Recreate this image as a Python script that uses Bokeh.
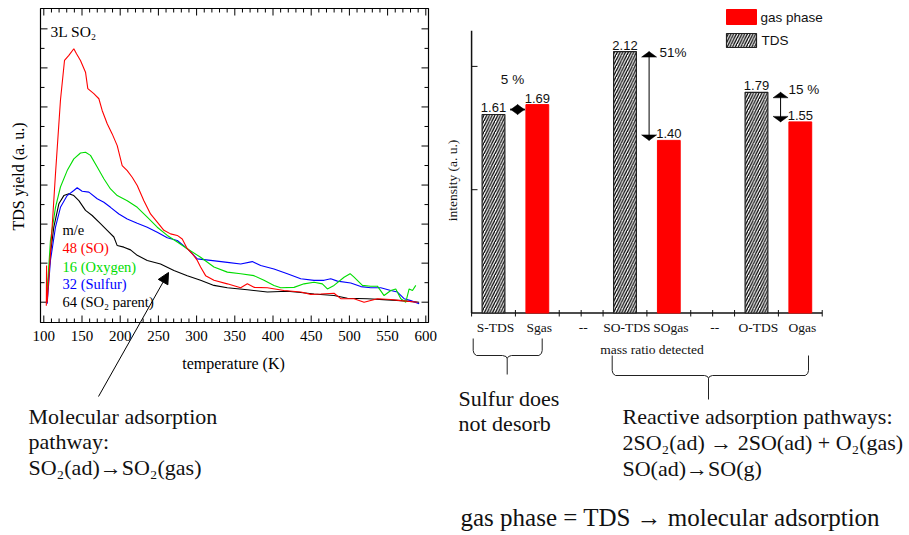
import math
from bokeh.plotting import figure
from bokeh.models import Range1d, Arrow, NormalHead
from bokeh.core.properties import value
from bokeh.embed import file_html
from bokeh.resources import INLINE

W, H = 909, 535
SERIF = "Liberation Serif"
SANS = "Liberation Sans"

# ---------------- data: TDS spectra (temperature in K, yield in a.u.) ----------------
so_temp = [103.3, 103.6, 103.9, 104.4, 108.7, 115.3, 121.8, 127.1, 132.8, 139.3, 142.8, 148.0,
           154.6, 157.6, 165.5, 172.1, 176.4, 183.0, 189.5, 196.1, 202.6, 209.2, 215.7, 222.3,
           231.0, 239.7, 248.5, 257.2, 265.9, 274.7, 281.2, 287.8, 294.3, 300.9, 305.2, 311.8,
           322.7, 340.2, 357.7, 366.4, 375.1, 392.6, 414.4, 436.3, 449.4, 462.5, 479.9, 488.7,
           506.1, 519.2, 536.7, 554.2, 567.3, 589.1]
so_yield = [-0.09, 0.94, 0.0, 0.0, 1.24, 3.29, 5.17, 6.19, 6.32, 6.49, 6.36, 6.19,
            5.89, 5.47, 5.34, 5.21, 4.91, 4.57, 4.31, 4.01, 3.50, 3.37, 3.20, 2.99,
            2.60, 2.26, 2.05, 1.84, 1.75, 1.71, 1.62, 1.37, 1.24, 1.07, 0.90, 0.68,
            0.56, 0.47, 0.37, 0.47, 0.38, 0.37, 0.30, 0.26, 0.20, 0.21, 0.23, 0.09,
            0.09, 0.0, 0.09, 0.07, 0.04, 0.0]

o_temp = [103.5, 108.7, 115.3, 121.8, 130.6, 139.3, 148.0, 154.6, 161.1, 169.9, 178.6, 187.3,
          196.1, 209.2, 222.3, 235.4, 248.5, 261.6, 274.7, 287.8, 305.2, 322.7, 340.2, 357.7,
          375.1, 388.2, 401.3, 410.1, 427.5, 440.6, 453.7, 464.6, 471.2, 479.9, 493.0, 500.9,
          506.1, 517.0, 527.9, 536.7, 545.4, 554.2, 560.7, 567.3, 573.8, 578.2, 582.6, 586.9]
o_yield = [0.0, 1.58, 2.43, 2.95, 3.37, 3.67, 3.82, 3.84, 3.76, 3.46, 3.16, 2.90,
           2.73, 2.60, 2.43, 2.18, 1.92, 1.71, 1.54, 1.37, 1.15, 0.90, 0.77, 0.73,
           0.68, 0.56, 0.43, 0.37, 0.38, 0.47, 0.51, 0.47, 0.34, 0.43, 0.64, 0.73,
           0.64, 0.43, 0.41, 0.41, 0.17, 0.30, 0.34, 0.09, 0.0, 0.34, 0.30, 0.43]

s_temp = [104.4, 108.7, 115.3, 121.8, 130.6, 139.3, 143.7, 150.2, 159.0, 169.9, 178.6, 187.3,
          198.3, 209.2, 222.3, 235.4, 248.5, 261.6, 274.7, 287.8, 300.9, 318.4, 340.2, 357.7,
          372.9, 383.9, 401.3, 418.8, 436.3, 453.7, 466.8, 475.6, 484.3, 501.8, 514.9, 528.0,
          541.1, 554.2, 562.9, 571.6, 580.4, 591.3]
s_yield = [-0.04, 1.07, 1.92, 2.43, 2.73, 2.86, 2.93, 2.84, 2.82, 2.65, 2.56, 2.43,
           2.26, 2.13, 2.02, 1.92, 1.79, 1.65, 1.58, 1.37, 1.11, 1.07, 1.02, 0.98,
           1.04, 0.94, 0.85, 0.73, 0.60, 0.56, 0.56, 0.60, 0.54, 0.49, 0.40, 0.37,
           0.37, 0.30, 0.26, 0.09, 0.04, -0.04]

so2_temp = [103.5, 108.7, 113.1, 119.7, 126.2, 132.8, 139.3, 145.9, 154.6, 163.3, 174.2, 183.0,
            191.7, 196.1, 204.8, 213.5, 222.3, 235.4, 252.8, 270.3, 287.8, 305.2, 322.7, 340.2,
            366.4, 392.6, 418.8, 436.3, 453.7, 479.9, 497.4, 523.6, 549.8, 567.3, 591.3]
so2_yield = [0.0, 1.24, 1.92, 2.52, 2.73, 2.78, 2.73, 2.60, 2.35, 2.22, 2.01, 1.84,
             1.67, 1.45, 1.41, 1.34, 1.20, 1.07, 0.98, 0.81, 0.68, 0.56, 0.43, 0.37,
             0.32, 0.26, 0.28, 0.25, 0.21, 0.17, 0.10, 0.09, 0.06, 0.04, 0.0]

temp_major = [100, 150, 200, 250, 300, 350, 400, 450, 500, 550, 600]
temp_minor = [110, 120, 130, 140, 160, 170, 180, 190, 210, 220, 230, 240, 260, 270, 280, 290,
              310, 320, 330, 340, 360, 370, 380, 390, 410, 420, 430, 440, 460, 470, 480, 490,
              510, 520, 530, 540, 560, 570, 580, 590]
yield_major = [0, 1, 2, 3, 4, 5, 6, 7]
yield_minor = [0.5, 1.5, 2.5, 3.5, 4.5, 5.5, 6.5]

series_labels = ["m/e", "48 (SO)", "16 (Oxygen)", "32 (Sulfur)", "64 (SO\u2082 parent)"]
series_colors = ["black", "#ff0000", "#00dd00", "#0000ff", "black"]

# ---------------- data: mass ratio bars ----------------
categories = ["S-TDS", "Sgas", "--", "SO-TDS", "SOgas", "--", "O-TDS", "Ogas"]
tds_cats = ["S-TDS", "SO-TDS", "O-TDS"]
tds_vals = [1.61, 2.12, 1.79]
gas_cats = ["Sgas", "SOgas", "Ogas"]
gas_vals = [1.69, 1.40, 1.55]
diff_labels = ["5 %", "51%", "15 %"]
intensity_ticks = [1, 2]

# ---------------- scales ----------------
def x_span(v0, px0, ppu):
    s = v0 - px0 / ppu
    return Range1d(start=s, end=s + W / ppu)

def y_span(v0, py0, ppu):
    s = v0 - (H - py0) / ppu
    return Range1d(start=s, end=s + H / ppu)

T_PPU = (425.3 - 43.3) / 500.0
Y_PPU = 39.05
BX_PPU = 43.83
BY_PPU = 123.3

p = figure(width=W, height=H, x_range=Range1d(0, W), y_range=Range1d(H, 0),
           toolbar_location=None, output_backend="svg", min_border=0,
           x_axis_type=None, y_axis_type=None)
p.outline_line_color = None
p.background_fill_color = "white"
p.border_fill_color = "white"
p.extra_x_ranges = {"tx": x_span(100, 43.3, T_PPU), "bx": x_span(0, 493.0, BX_PPU)}
p.extra_y_ranges = {"ty": y_span(0, 301.7, Y_PPU), "by": y_span(0, 312.5, BY_PPU)}

# ================= left: TDS chart =================
FL, FR, FT, FB = 40, 428, 8, 322
p.quad(left=[FL], right=[FR], top=[FT], bottom=[FB], fill_color=None,
       line_color="black", line_width=1.2)

n = len(temp_major); m = len(temp_minor)
for y0, d in ((FB, -1), (FT, 1)):
    p.segment(x0=temp_major, x1=temp_major, y0=[y0] * n, y1=[y0 + 7 * d] * n,
              x_range_name="tx", line_color="black", line_width=1)
    p.segment(x0=temp_minor, x1=temp_minor, y0=[y0] * m, y1=[y0 + 4 * d] * m,
              x_range_name="tx", line_color="black", line_width=1)
n = len(yield_major); m = len(yield_minor)
for x0, d in ((FL, 1), (FR, -1)):
    p.segment(x0=[x0] * n, x1=[x0 + 7 * d] * n, y0=yield_major, y1=yield_major,
              y_range_name="ty", line_color="black", line_width=1)
    p.segment(x0=[x0] * m, x1=[x0 + 4 * d] * m, y0=yield_minor, y1=yield_minor,
              y_range_name="ty", line_color="black", line_width=1)

p.text(x=temp_major, y=[335] * len(temp_major), text=[str(t) for t in temp_major],
       x_range_name="tx", text_font=value(SERIF), text_font_size=value("15px"),
       text_align="center", text_baseline="middle", text_color="black")

for tx_, ty_, col in ((so2_temp, so2_yield, "black"), (s_temp, s_yield, "#0000ff"),
                      (o_temp, o_yield, "#00dd00"), (so_temp, so_yield, "#ff0000")):
    p.line(tx_, ty_, x_range_name="tx", y_range_name="ty", line_color=col, line_width=1.1)

p.text(x=[62] * len(series_labels), y=[229, 247, 266, 283, 301], text=series_labels,
       text_color=series_colors, text_font=value(SERIF), text_font_size=value("14.5px"),
       text_align="left", text_baseline="middle")
p.text(x=[50], y=[31], text=["3L SO\u2082"], text_font=value(SERIF),
       text_font_size=value("15.5px"), text_align="left", text_baseline="middle")
p.text(x=[18], y=[176], text=["TDS yield (a. u.)"], angle=math.pi / 2,
       text_font=value(SERIF), text_font_size=value("16px"),
       text_align="center", text_baseline="middle")
p.text(x=[233], y=[363], text=["temperature (K)"], text_font=value(SERIF),
       text_font_size=value("16px"), text_align="center", text_baseline="middle")

p.add_layout(Arrow(end=NormalHead(size=11, fill_color="black", line_color="black"),
                   x_start=98, y_start=396, x_end=168, y_end=272,
                   line_color="black", line_width=1))

# ================= right: bar chart =================
AX_TOP = 2.29
p.segment(x0=[-0.5, -0.5], y0=[0, 0], x1=[-0.5, len(categories) - 0.5], y1=[AX_TOP, 0],
          x_range_name="bx", y_range_name="by", line_color="#111111", line_width=1.5)
bar_ticks = [i - 0.5 for i in range(len(categories) + 1)] + \
            [i for i, c in enumerate(categories) if c == "--"]
p.segment(x0=bar_ticks, x1=bar_ticks, y0=[309.5] * len(bar_ticks), y1=[316] * len(bar_ticks),
          x_range_name="bx", line_color="#111111", line_width=1)
p.segment(x0=[471] * len(intensity_ticks), x1=[477] * len(intensity_ticks),
          y0=intensity_ticks, y1=intensity_ticks, y_range_name="by",
          line_color="#111111", line_width=1)

tds_x = [categories.index(c) for c in tds_cats]
gas_x = [categories.index(c) for c in gas_cats]
HATCH = dict(hatch_pattern="/", hatch_color="#000000", hatch_scale=5.5, hatch_weight=1.3)
p.vbar(x=tds_x, top=tds_vals, bottom=0, width=0.52, x_range_name="bx", y_range_name="by",
       fill_color="white", line_color="#222222", line_width=1.2, **HATCH)
p.vbar(x=gas_x, top=gas_vals, bottom=0, width=0.52, x_range_name="bx", y_range_name="by",
       fill_color="#ff0000", line_color="#ff0000", line_width=1)

p.text(x=tds_x + gas_x, y=tds_vals + gas_vals, text=["%.2f" % v for v in tds_vals + gas_vals],
       x_range_name="bx", y_range_name="by", y_offset=-6.5, text_font=value(SANS),
       text_font_size=value("13px"), text_align="center", text_baseline="middle",
       text_color="#111111")

p.text(x=[i for i in range(len(categories))], y=[327] * len(categories), text=categories,
       x_range_name="bx", x_offset=2, text_font=value(SERIF), text_font_size=value("13.5px"),
       text_align="center", text_baseline="middle", text_color="#111111")
p.text(x=[651.5], y=[349], text=["mass ratio detected"], text_font=value(SERIF),
       text_font_size=value("13.5px"), text_align="center", text_baseline="middle",
       text_color="#111111")
p.text(x=[452], y=[180], text=["intensity (a. u.)"], angle=math.pi / 2,
       text_font=value(SERIF), text_font_size=value("13.5px"), text_align="center",
       text_baseline="middle", text_color="#111111")

# difference arrows
hw = 7.5 / BX_PPU
hh = 5.5 / BY_PPU
sx, sy0, sy1, hx, hy = [], [], [], [], []
for i, tv, gv in zip(tds_x, tds_vals, gas_vals):
    ax = i + 0.55
    hi, lo = max(tv, gv), min(tv, gv)
    sx.append(ax); sy0.append(hi); sy1.append(lo)
    hx.append([ax - hw, ax, ax + hw]); hy.append([hi - hh, hi, hi - hh])
    hx.append([ax - hw, ax, ax + hw]); hy.append([lo + hh, lo, lo + hh])
p.segment(x0=sx, x1=sx, y0=sy0, y1=sy1, x_range_name="bx", y_range_name="by",
          line_color="black", line_width=1)
p.patches(hx, hy, x_range_name="bx", y_range_name="by", fill_color="black",
          line_color="black", line_width=0.5)

p.text(x=[512], y=[79], text=[diff_labels[0]], text_font=value(SANS),
       text_font_size=value("13.5px"), text_align="center", text_baseline="middle",
       text_color="#111111")
p.text(x=[659, 788], y=[52, 89], text=diff_labels[1:], text_font=value(SANS),
       text_font_size=value("13.5px"), text_align="left", text_baseline="middle",
       text_color="#111111")

# legend
p.quad(left=[726], right=[756], top=[9], bottom=[24], fill_color="#ff0000", line_color="#ff0000")
p.quad(left=[726], right=[756], top=[33], bottom=[47], fill_color="white", line_color="#222222",
       line_width=1.2, **HATCH)
p.text(x=[760, 761], y=[17, 40], text=["gas phase", "TDS"], text_font=value(SANS),
       text_font_size=value("13.5px"), text_align="left", text_baseline="middle",
       text_color="#111111")

# braces
p.multi_line(
    xs=[[472.7, 472.7, 473.5, 476, 502, 505.5, 506.7, 506.7],
        [541.7, 541.7, 540.9, 538.4, 511, 508, 506.7],
        [611.7, 611.7, 612.5, 615, 704, 707, 708, 708],
        [808, 808, 807.2, 804.7, 712, 709, 708]],
    ys=[[338, 350, 353, 355, 355, 356, 358, 374],
        [338, 350, 353, 355, 355, 356, 358],
        [355, 370, 373, 375, 375, 376, 378, 399],
        [355, 370, 373, 375, 375, 376, 378]],
    line_color="#222222", line_width=1)

# ================= annotation texts =================
notes = ["Molecular adsorption", "pathway:", "SO\u2082(ad)\u2192SO\u2082(gas)",
         "Sulfur does", "not desorb",
         "Reactive adsorption pathways:", "2SO\u2082(ad) \u2192 2SO(ad) + O\u2082(gas)",
         "SO(ad)\u2192SO(g)"]
p.text(x=[28, 28, 28, 458, 458, 622, 622, 622],
       y=[415.5, 440.5, 466.5, 397.5, 422.5, 415.5, 441.5, 467.5], text=notes,
       text_font=value(SERIF), text_font_size=value("22px"), text_align="left",
       text_baseline="middle", text_color="#111111")
p.text(x=[460], y=[516.5], text=["gas phase = TDS \u2192 molecular adsorption"],
       text_font=value(SERIF), text_font_size=value("25px"), text_align="left",
       text_baseline="middle", text_color="#111111")

open("out.html", "w").write(file_html(p, INLINE))
